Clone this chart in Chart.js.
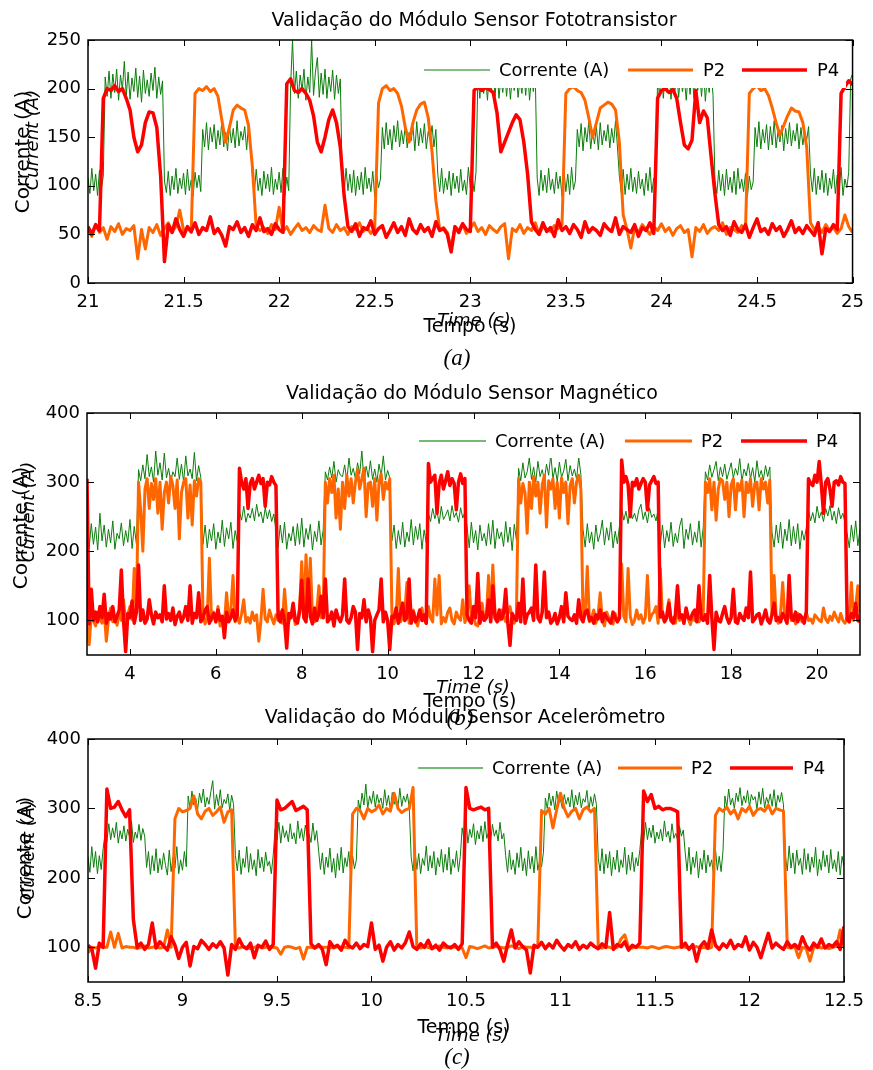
<!DOCTYPE html>
<html>
<head>
<meta charset="utf-8">
<script src="https://cdn.jsdelivr.net/npm/chart.js@4/dist/chart.umd.min.js"></script>
<style>
html,body{margin:0;padding:0;background:#fff;}
#page{position:relative;width:873px;height:1070px;overflow:hidden;background:#fff;}
canvas{position:absolute;left:0;}
.t{position:absolute;white-space:nowrap;font-family:"DejaVu Sans",sans-serif;color:#000;transform:translate(-50%,-50%);line-height:1;}
.r{transform:translate(-50%,-50%) rotate(-90deg);}
.i{font-style:italic;}
.s{font-family:"Liberation Serif",serif;font-style:italic;}
</style>
</head>
<body>
<div id="page">
<canvas id="cA" width="873" height="320" style="top:0px"></canvas>
<canvas id="cB" width="873" height="320" style="top:372px"></canvas>
<canvas id="cC" width="873" height="300" style="top:720px"></canvas>

<div class="t" style="left:474px;top:19px;font-size:19px">Validação do Módulo Sensor Fototransistor</div>
<div class="t r" style="left:22px;top:152px;font-size:20px">Corrente (A)</div>
<div class="t r i" style="left:32px;top:140px;font-size:18px">Current (A)</div>
<div class="t i" style="left:474px;top:320px;font-size:18px">Time (s)</div>
<div class="t" style="left:470px;top:325px;font-size:19px">Tempo (s)</div>
<div class="t s" style="left:457px;top:357px;font-size:23px">(a)</div>

<div class="t" style="left:472px;top:392px;font-size:19px">Validação do Módulo Sensor Magnético</div>
<div class="t r" style="left:20px;top:528px;font-size:20px">Corrente (A)</div>
<div class="t r i" style="left:28px;top:512px;font-size:18px">Current (A)</div>
<div class="t i" style="left:473px;top:687px;font-size:18px">Time (s)</div>
<div class="t" style="left:470px;top:700px;font-size:19px">Tempo (s)</div>
<div class="t s" style="left:460px;top:717px;font-size:23px">(b)</div>

<div class="t" style="left:465px;top:716px;font-size:19px">Validação do Módulo Sensor Acelerômetro</div>
<div class="t r" style="left:24px;top:858px;font-size:20px">Corrente (A)</div>
<div class="t r i" style="left:28px;top:850px;font-size:18px">Current (A)</div>
<div class="t" style="left:464px;top:1026px;font-size:19px">Tempo (s)</div>
<div class="t i" style="left:472px;top:1035px;font-size:18px">Time (s)</div>
<div class="t s" style="left:457px;top:1056px;font-size:23px">(c)</div>
</div>

<script>
// ---------------- Panel (a): Fototransistor ----------------
const xTicksA = [21, 21.5, 22, 22.5, 23, 23.5, 24, 24.5, 25];
const yTicksA = [0, 50, 100, 150, 200, 250];
const startA = 21, stepCurA = 0.01, stepPA = 0.02;
const currentA = [
108,92,118,95,112,90,116,97,110,
212,192,218,190,215,196,220,188,214,199,228,193,217,189,211,197,221,191,213,186,219,195,209,192,216,198,222,190,212,194,208,
105,93,115,90,110,96,118,92,108,97,113,91,117,95,106,89,114,98,111,94,
158,140,165,137,160,145,163,138,157,142,166,140,155,136,162,144,159,139,167,141,156,147,161,137,164,143,
110,92,117,95,108,90,115,97,112,94,119,91,107,96,114,93,118,90,109,95,
203,250,195,218,190,214,198,220,188,212,196,250,193,217,232,191,216,194,220,190,212,197,219,189,214,195,210,
106,92,118,95,112,93,116,90,110,96,114,91,119,97,108,94,115,89,111,98,107,
160,138,165,142,158,137,162,145,167,140,157,143,163,139,155,146,161,136,166,141,159,144,164,138,156,147,162,140,158,
112,94,118,92,108,96,115,90,113,97,110,93,117,95,106,91,119,98,109,94,114,
215,190,220,195,212,188,218,197,214,192,221,190,210,196,218,192,216,189,213,198,220,191,209,195,217,193,222,188,211,197,215,
108,90,116,95,111,93,118,96,107,92,114,97,110,89,117,94,112,91,119,96,105,
158,140,164,136,160,145,166,138,156,143,161,137,165,142,157,146,163,139,159,144,167,140,
110,93,117,91,112,96,118,94,109,92,115,97,107,90,113,95,119,93,108,96,
212,193,219,190,215,196,221,189,213,195,218,191,214,197,210,188,217,194,222,190,211,198,216,192,220,187,213,196,218,193,
106,92,116,95,112,90,117,96,109,93,115,91,118,97,107,94,113,89,110,96,104,
160,140,166,138,158,144,163,137,161,142,167,139,156,145,162,136,159,143,165,141,157,146,164,138,160,142,155,147,161,
112,94,118,91,110,96,116,93,113,90,108,97,117,92,111,95,119,90,107,98,114,
210,215];
const p2A = [
55,48,60,52,57,45,58,53,61,50,56,54,59,25,55,35,57,52,60,49,56,62,53,58,75,54,57,52,
195,200,198,202,197,200,192,168,145,160,178,183,180,178,162,120,58,
54,57,51,60,55,78,53,58,50,56,61,54,57,52,59,55,53,80,56,52,60,54,57,50,58,55,62,53,57,51,56,
185,200,203,198,200,195,182,160,145,165,178,184,186,170,135,85,55,
57,52,35,58,54,60,51,56,62,53,57,50,59,55,52,58,61,25,56,53,60,51,57,54,62,50,58,55,53,59,56,60,
195,200,202,198,196,188,170,150,165,180,183,186,184,178,145,70,55,
36,57,52,60,55,50,58,54,61,53,57,49,56,59,52,55,27,57,53,60,51,56,58,54,62,50,57,55,52,59,56,
195,200,203,198,200,193,180,165,152,162,172,180,177,176,165,140,62,
55,58,52,60,54,57,51,56,70,58,52];
const p4A = [
58,50,60,54,
190,200,198,203,197,200,
190,178,150,135,142,165,176,175,160,110,22,60,
52,66,55,48,58,53,62,50,57,54,68,51,56,49,38,58,55,63,52,57,48,60,54,67,53,56,50,61,55,52,
205,210,198,196,200,195,
188,172,145,135,150,168,178,165,140,90,58,
53,61,48,57,55,64,50,56,59,47,54,62,52,58,49,66,55,51,60,53,57,48,63,54,56,50,32,58,52,61,55,53,
198,202,198,201,199,196,
175,135,145,155,165,173,168,145,112,63,
55,50,62,53,57,48,65,54,58,51,60,55,47,63,52,57,54,49,61,56,53,67,50,58,55,52,60,48,57,54,62,51,
190,198,200,196,199,190,165,142,138,147,198,165,177,170,130,92,60,
54,58,49,63,55,52,60,47,57,66,53,56,50,61,54,58,48,55,64,52,57,51,59,54,49,62,30,56,53,60,55,
195,202,208,204];

// ---------------- Panel (b): Magnético ----------------
const xTicksB = [4, 6, 8, 10, 12, 14, 16, 18, 20];
const yTicksB = [100, 200, 300, 400];
const startB = 3, stepB = 0.05;
const currentB = [
228,205,240,210,235,202,255,215,238,206,232,212,244,203,226,218,241,208,230,213,246,204,236,211,
318,302,325,305,340,308,322,300,345,310,328,303,342,306,320,301,315,308,335,304,326,300,338,309,319,305,343,302,324,307,
210,238,205,232,215,240,203,228,212,245,207,234,218,242,204,230,214,
258,245,265,242,255,248,262,244,268,250,257,241,263,247,260,243,254,
230,205,238,212,242,203,226,215,236,208,240,210,248,206,233,217,239,202,229,214,244,209,231,
315,303,322,306,330,300,318,310,308,325,302,335,310,320,305,328,312,345,301,323,307,331,304,319,300,326,309,338,303,317,306,
215,238,204,230,210,242,206,228,214,246,209,236,217,240,203,231,212,
255,243,262,247,258,240,265,246,252,260,244,266,249,256,242,263,248,257,
236,205,242,212,230,202,238,215,226,208,240,210,245,204,233,218,228,207,243,213,235,201,239,216,
320,302,328,306,315,335,304,322,300,330,308,318,303,326,310,340,305,321,301,329,307,316,333,302,324,309,319,304,336,311,
232,206,240,212,228,203,238,214,225,245,209,234,216,242,205,229,211,237,
262,245,258,240,265,247,255,243,260,268,246,257,241,263,249,254,244,261,
210,238,205,230,214,242,207,226,212,236,248,204,232,217,240,209,228,213,244,206,235,
315,303,325,307,318,330,302,322,308,326,304,316,328,306,320,310,334,301,319,309,327,305,321,300,331,307,317,303,324,308,322,
228,206,238,212,242,204,232,215,246,208,236,211,240,203,230,216,234,
260,244,256,241,265,248,257,243,262,251,266,245,258,240,263,247,255,242,
226,205,238,214,244,208,232];
const p2B = [
95,65,108,100,92,112,104,96,115,70,102,118,98,106,93,112,100,130,97,108,120,101,175,110,
300,260,200,290,305,262,298,275,305,255,300,232,285,300,270,308,295,262,303,218,285,300,305,248,296,238,302,280,305,300,
110,95,104,190,100,112,98,120,92,106,95,140,102,115,165,98,105,96,110,130,98,104,96,112,100,108,70,100,145,102,
98,115,104,95,108,100,112,96,145,104,98,110,112,94,100,118,185,104,195,120,190,105,98,112,150,104,110,
300,270,305,285,310,248,290,232,300,262,310,280,305,270,300,318,290,305,320,250,298,300,265,305,245,300,312,275,300,290,305,
110,95,104,175,98,105,112,155,96,102,115,100,92,108,118,100,96,120,104,98,
160,108,165,95,104,98,112,118,100,95,
112,104,100,130,97,108,150,102,106,94,
92,110,125,100,104,165,98,180,112,104,
100,115,106,98,110,120,104,96,110,
305,270,298,285,226,300,262,308,280,300,255,296,310,235,302,290,305,262,300,248,306,285,300,240,295,305,270,300,310,290,
105,112,178,98,104,115,96,108,140,100,
92,112,104,100,95,110,98,104,182,106,
98,175,106,94,100,115,102,108,96,104,
165,100,108,112,120,96,175,104,98,110,
130,100,104,96,112,100,108,98,115,102,
94,106,100,112,98,104,110,
300,285,305,260,300,245,290,305,302,275,300,250,296,305,260,298,288,303,250,300,285,305,265,298,300,260,305,290,300,270,303,
108,165,102,96,110,155,104,98,115,100,
108,95,110,104,98,102,112,100,102,96,
108,104,100,98,118,102,97,106,100,112,
104,98,110,100,96,104,108,155,100,120,
150,112];
const p4B = [
305,
95,145,100,112,98,120,104,138,96,110,
102,120,98,106,115,173,100,55,110,104,
128,96,112,180,100,115,96,102,130,108,
95,112,104,108,98,150,102,110,100,118,
94,106,112,98,105,120,100,150,96,110,
104,140,98,103,115,120,96,104,110,98,
115,100,106,75,112,98,104,115,100,108,
320,300,290,305,262,298,305,290,300,310,298,305,265,300,296,308,300,295,
105,98,115,100,60,110,104,125,100,96,
112,158,104,98,160,106,95,118,100,110,
135,104,160,98,102,112,92,115,104,98,
108,160,100,96,104,120,112,58,110,104,
130,98,115,104,55,100,108,115,160,98,
112,100,58,106,104,118,96,110,125,100,
104,160,96,112,98,104,115,100,108,96,
327,300,305,310,255,298,310,290,302,315,295,305,298,260,300,312,298,305,
108,100,96,120,104,168,96,112,100,104,
130,98,150,104,98,115,102,110,145,96,
64,110,104,100,125,98,160,96,108,112,
118,100,180,104,98,112,170,104,112,96,
100,110,95,104,120,98,140,106,102,100,
108,96,130,104,98,112,115,100,104,96,
108,102,115,98,110,104,100,96,112,104,
98,104,
332,300,308,296,250,300,295,305,290,298,305,300,260,296,302,308,298,300,
105,112,98,104,125,100,96,108,150,104,
108,96,118,104,102,110,115,98,150,104,
100,108,96,165,104,58,112,100,98,110,
120,104,96,104,145,98,96,110,104,100,
118,104,170,98,102,108,110,95,104,115,
100,96,108,125,100,104,98,110,104,96,
165,104,100,112,98,108,104,96,112,
305,298,295,310,300,330,296,255,300,305,290,265,300,302,296,308,300,298,
102,98,110,104,125,100,98];

// ---------------- Panel (c): Acelerômetro ----------------
const xTicksC = [8.5, 9, 9.5, 10, 10.5, 11, 11.5, 12, 12.5];
const yTicksC = [100, 200, 300, 400];
const startC = 8.5, stepCurC = 0.01, stepPC = 0.02;
const currentC = [
230,208,245,215,238,206,232,212,242,
262,252,278,255,272,258,280,250,268,256,275,253,270,259,282,251,266,257,277,254,271,260,
215,238,205,232,210,242,207,228,212,236,218,204,240,209,230,214,245,206,226,211,238,216,
318,300,325,305,315,298,322,308,328,302,316,306,324,340,299,320,304,327,301,313,307,321,297,319,306,
232,210,240,205,228,215,245,208,235,212,226,203,241,214,230,209,237,217,224,206,233,
270,255,280,250,275,258,268,252,278,256,265,249,282,257,271,253,276,259,263,251,279,254,268,
240,212,236,205,230,215,243,208,228,200,235,211,244,207,229,216,238,203,232,213,226,
312,298,322,305,335,300,318,307,325,302,320,308,315,300,327,304,319,297,323,306,316,301,329,303,318,309,321,300,
230,210,242,212,235,206,228,218,246,210,232,214,238,204,229,216,241,208,234,211,244,205,227,215,239,209,231,
272,255,285,250,270,258,278,248,268,256,275,252,281,257,266,251,277,260,269,253,280,256,264,
232,208,240,212,226,205,236,215,244,210,228,203,239,213,231,207,245,211,225,216,237,
315,300,322,304,318,298,325,308,312,300,320,306,316,302,327,299,319,305,323,301,314,309,326,297,317,303,321,306,
228,210,242,206,234,214,238,203,230,212,240,208,226,215,244,205,233,211,237,209,229,217,241,
268,252,280,255,272,258,276,250,266,256,270,253,282,259,267,251,278,257,264,254,274,260,269,
236,210,244,205,230,215,238,200,228,212,240,207,233,216,226,204,242,211,231,209,239,
318,302,328,305,315,300,322,310,330,304,318,308,326,302,320,312,317,299,324,306,329,301,316,307,321,303,327,300,319,309,323,305,
232,210,246,214,236,206,240,218,228,205,242,212,235,208,230,215,244,203,227,211,239,216,233,207,241,213,226,209,238,204,231,217];
const p2C = [
92,100,99,101,100,100,122,100,120,99,101,100,100,98,100,102,99,100,101,99,100,125,100,
285,300,295,297,300,318,292,285,296,300,290,295,302,280,295,298,
100,99,101,100,98,100,102,99,100,101,100,99,90,100,101,100,98,100,83,100,100,99,101,100,100,100,99,101,100,100,99,
292,300,297,285,300,295,298,305,292,300,296,322,300,294,298,300,330,
100,99,101,100,98,100,102,100,99,101,100,100,99,85,101,100,98,100,102,99,100,101,100,99,100,102,100,98,101,100,100,99,101,
297,292,300,272,298,322,300,288,296,300,285,298,302,295,300,
100,99,101,100,98,100,112,118,100,99,101,100,100,99,101,100,98,100,101,100,99,100,101,100,99,100,101,99,100,98,100,
290,300,296,302,292,298,285,300,295,303,290,298,300,296,305,292,300,298,296,
100,99,101,85,100,98,80,100,101,99,100,98,100,101,125,100];
const p4C = [
103,98,70,106,100,
328,300,302,310,298,288,298,140,
100,106,97,104,135,99,108,102,96,115,103,84,100,107,73,101,98,110,104,97,105,100,108,99,60,104,97,112,101,98,106,85,103,100,109,97,104,
312,298,300,305,310,297,300,303,298,
105,99,104,97,75,108,100,103,96,110,102,99,106,98,104,101,135,97,103,80,100,108,96,104,99,107,122,101,97,105,100,110,98,103,96,106,101,99,104,97,105,
330,300,298,300,302,298,300,
100,106,97,80,104,125,99,108,101,96,63,103,100,107,98,105,99,110,102,96,104,100,108,97,103,99,106,101,98,105,100,150,97,104,101,108,96,103,100,106,
325,310,320,300,303,298,300,300,298,295,
100,106,97,104,80,101,108,99,125,103,97,105,100,110,98,104,101,115,96,107,100,85,103,120,99,106,101,97,108,100,104,98,115,102,96,106,100,112,99,104,101,108,97,130];

const seriesNames = ['Corrente (A)', 'P2', 'P4'];
const FONT = '"DejaVu Sans", sans-serif';

const panels = [
  {id:'cA', top:0, h:320, L:88, R:861, T:40, B:283, xMin:21, xMax:25, yMin:0, yMax:250,
   xTicks:xTicksA, yTicks:yTicksA, start:startA,
   cur:currentA, curStep:stepCurA, p2:p2A, p4:p4A, pStep:stepPA,
   legend:{y:70, mask:[415,49,846,88], g:[424,490], gc:'#0b7d0b', gw:1, gt:499, o:[628,693], ot:703, r:[742,807], rt:817}},
  {id:'cB', top:372, h:320, L:87, R:860, T:413, B:655, xMin:3, xMax:21, yMin:50, yMax:400,
   xTicks:xTicksB, yTicks:yTicksB, start:startB,
   cur:currentB, curStep:stepB, p2:p2B, p4:p4B, pStep:stepB,
   legend:{y:441, mask:[410,424,852,458], g:[419,486], gc:'#74bb74', gw:2, gt:495, o:[625,692], ot:701, r:[741,807], rt:816}},
  {id:'cC', top:720, h:300, L:88, R:846, T:739, B:982, xMin:8.5, xMax:12.5, yMin:50, yMax:400,
   xTicks:xTicksC, yTicks:yTicksC, start:startC,
   cur:currentC, curStep:stepCurC, p2:p2C, p4:p4C, pStep:stepPC,
   legend:{y:768, mask:[410,751,840,785], g:[418,483], gc:'#74bb74', gw:2, gt:492, o:[618,682], ot:691, r:[730,793], rt:803}}
];

function overlay(p){
  return {
    id:'overlay_'+p.id,
    afterDatasetsDraw(chart){
      const ctx = chart.ctx, lg = p.legend, oy = p.top;
      ctx.save();
      ctx.fillStyle = '#fff';
      ctx.fillRect(lg.mask[0], lg.mask[1]-oy, lg.mask[2]-lg.mask[0], lg.mask[3]-lg.mask[1]);
      const y = lg.y - oy;
      const line = (a, c, w) => { ctx.beginPath(); ctx.strokeStyle = c; ctx.lineWidth = w; ctx.moveTo(a[0], y); ctx.lineTo(a[1], y); ctx.stroke(); };
      line(lg.g, lg.gc, lg.gw);
      line(lg.o, '#ff6600', 3);
      line(lg.r, '#ff0000', 3.5);
      ctx.fillStyle = '#000';
      ctx.font = '18px ' + FONT;
      ctx.textBaseline = 'middle';
      ctx.textAlign = 'left';
      ctx.fillText(seriesNames[0], lg.gt, y + 1);
      ctx.fillText(seriesNames[1], lg.ot, y + 1);
      ctx.fillText(seriesNames[2], lg.rt, y + 1);
      ctx.restore();
    },
    afterDraw(chart){
      const ctx = chart.ctx, a = chart.chartArea, sx = chart.scales.x, sy = chart.scales.y;
      ctx.save();
      ctx.strokeStyle = '#000';
      ctx.lineWidth = 1;
      ctx.beginPath();
      p.xTicks.forEach(v => {
        const px = Math.round(sx.getPixelForValue(v)) + 0.5;
        ctx.moveTo(px, a.bottom); ctx.lineTo(px, a.bottom - 6);
        ctx.moveTo(px, a.top); ctx.lineTo(px, a.top + 6);
      });
      p.yTicks.forEach(v => {
        const py = Math.round(sy.getPixelForValue(v)) + 0.5;
        ctx.moveTo(a.left, py); ctx.lineTo(a.left + 7, py);
        ctx.moveTo(a.right, py); ctx.lineTo(a.right - 7, py);
      });
      ctx.stroke();
      ctx.lineWidth = 1.5;
      ctx.strokeRect(a.left, a.top, a.right - a.left, a.bottom - a.top);
      ctx.restore();
    }
  };
}

function makeChart(p){
  const cv = document.getElementById(p.id);
  const pts = (arr, step) => arr.map((v, i) => ({x: +(p.start + i * step).toFixed(4), y: v}));
  new Chart(cv, {
    type: 'line',
    data: { datasets: [
      {label: seriesNames[0], data: pts(p.cur, p.curStep), borderColor: '#0b7d0b', borderWidth: 1, order: 3},
      {label: seriesNames[1], data: pts(p.p2, p.pStep), borderColor: '#ff6600', borderWidth: 3, order: 2},
      {label: seriesNames[2], data: pts(p.p4, p.pStep), borderColor: '#ff0000', borderWidth: 3.5, order: 1}
    ]},
    options: {
      responsive: false, animation: false, devicePixelRatio: 1, events: [],
      parsing: false, normalized: true,
      elements: { point: {radius: 0}, line: {tension: 0, fill: false, borderJoinStyle: 'round'} },
      datasets: { line: { clip: 0 } },
      layout: { padding: { top: p.T - p.top, right: 873 - p.R, left: 0, bottom: 0 } },
      scales: {
        x: {
          type: 'linear', min: p.xMin, max: p.xMax,
          grid: {display: false, drawTicks: false}, border: {display: false},
          afterBuildTicks: s => { s.ticks = p.xTicks.map(v => ({value: v})); },
          afterFit: s => { s.height = p.top + p.h - p.B; },
          ticks: {autoSkip: false, maxRotation: 0, minRotation: 0, padding: 9, color: '#000',
                  font: {family: FONT, size: 18}, callback: v => String(v)}
        },
        y: {
          type: 'linear', min: p.yMin, max: p.yMax,
          grid: {display: false, drawTicks: false}, border: {display: false},
          afterBuildTicks: s => { s.ticks = p.yTicks.map(v => ({value: v})); },
          afterFit: s => { s.width = p.L; },
          ticks: {padding: 7, color: '#000', font: {family: FONT, size: 18}, callback: v => String(v)}
        }
      },
      plugins: { legend: {display: false}, tooltip: {enabled: false}, title: {display: false} }
    },
    plugins: [overlay(p)]
  });
}

panels.forEach(makeChart);
</script>
</body>
</html>
